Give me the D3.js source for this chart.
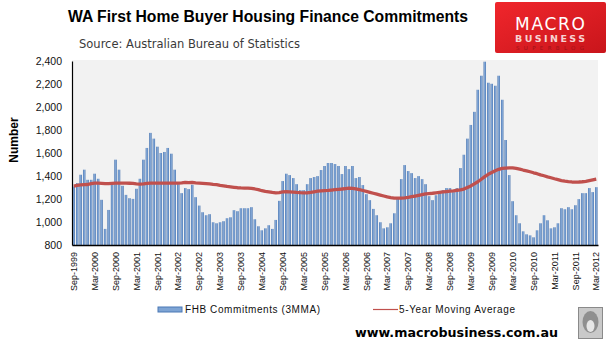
<!DOCTYPE html>
<html>
<head>
<meta charset="utf-8">
<script src="https://cdn.jsdelivr.net/npm/d3@7"></script>
<style>
  html, body { margin: 0; padding: 0; background: #fff; }
  svg { display: block; }
</style>
</head>
<body>
<svg id="chart" width="613" height="348"></svg>
<script>
// WA first home buyer finance commitments, monthly, Sep-1999 to Mar-2012
const startYear = 1999, startMonth = 8; // September (0-based)
const monthNames = ["Jan","Feb","Mar","Apr","May","Jun","Jul","Aug","Sep","Oct","Nov","Dec"];

// FHB commitments (3-month moving average), one value per month
const fhbCommitments = [
  1309,1338,1411,1455,1367,1367,1420,1376,1193,940,1105,1324,
  1542,1455,1315,1236,1207,1201,1289,1376,1542,1644,1775,1725,
  1655,1600,1609,1644,1594,1455,1329,1251,1295,1286,1324,1216,
  1143,1085,1059,1068,998,989,998,1007,1033,1041,1103,1094,
  1120,1120,1120,1129,1024,963,928,945,972,940,1018,1184,
  1356,1420,1408,1382,1329,1277,1277,1329,1382,1391,1399,1452,
  1487,1513,1513,1504,1487,1417,1487,1460,1487,1382,1391,1321,
  1242,1190,1114,1059,998,945,954,989,1076,1207,1373,1495,
  1443,1425,1382,1399,1373,1329,1225,1190,1233,1268,1277,1295,
  1295,1260,1295,1469,1585,1725,1844,1958,2150,2272,2394,2211,
  2202,2185,2272,2063,1713,1408,1181,1059,989,919,893,884,
  867,928,989,1059,1015,945,954,989,1120,1111,1129,1111,
  1146,1199,1251,1251,1295,1260,1303
];

// 5-year moving average, one value per month
const movingAverage = [
  1312,1318,1322,1325,1326,1334,1338,1338,1336,1333,1333,1336,
  1338,1338,1338,1338,1337,1335,1332,1330,1332,1335,1338,1338,
  1338,1338,1338,1338,1338,1338,1338,1340,1344,1342,1344,1340,
  1338,1336,1334,1332,1328,1325,1318,1315,1310,1306,1302,1298,
  1296,1295,1295,1292,1287,1281,1272,1266,1262,1257,1254,1256,
  1262,1263,1262,1260,1257,1255,1254,1254,1258,1263,1268,1271,
  1273,1275,1278,1281,1284,1287,1291,1295,1292,1288,1281,1274,
  1266,1258,1250,1242,1234,1226,1218,1212,1208,1207,1208,1210,
  1214,1220,1226,1232,1238,1244,1247,1250,1254,1258,1262,1265,
  1268,1271,1276,1280,1286,1300,1314,1332,1350,1372,1395,1415,
  1430,1445,1458,1466,1469,1470,1470,1466,1460,1452,1445,1437,
  1428,1420,1410,1402,1393,1385,1376,1368,1360,1355,1351,1348,
  1347,1348,1350,1354,1360,1366,1372
];

const yTicks = [800, 1000, 1200, 1400, 1600, 1800, 2000, 2200, 2400];

// month category labels, e.g. "Sep-1999"
const months = fhbCommitments.map((_, i) => {
  const m = (startMonth + i) % 12;
  const yr = startYear + Math.floor((startMonth + i) / 12);
  return monthNames[m] + "-" + yr;
});
const xTickLabels = months.filter((_, i) => i % 6 === 0);

const svg = d3.select("#chart");
const plot = { left: 72, right: 598, top: 60, bottom: 245 };

const x = d3.scaleBand()
  .domain(months)
  .range([plot.left, plot.right])
  .paddingInner(0.3)
  .paddingOuter(0.15);

const y = d3.scaleLinear()
  .domain([800, 2400])
  .range([plot.bottom, 61]);

const defs = svg.append("defs");
const barGrad = defs.append("linearGradient")
  .attr("id", "barFill").attr("x1", 0).attr("x2", 1).attr("y1", 0).attr("y2", 0);
[["0%", "#3a69a8"], ["35%", "#7fa4d4"], ["65%", "#7fa4d4"], ["100%", "#3a69a8"]]
  .forEach(([o, c]) => barGrad.append("stop").attr("offset", o).attr("stop-color", c));

const logoGrad = defs.append("linearGradient")
  .attr("id", "logoFill").attr("x1", 0).attr("x2", 1).attr("y1", 0).attr("y2", 1);
[["0%", "#f0262c"], ["100%", "#c9151b"]]
  .forEach(([o, c]) => logoGrad.append("stop").attr("offset", o).attr("stop-color", c));

// plot background
svg.append("rect")
  .attr("x", plot.left).attr("y", plot.top)
  .attr("width", plot.right - plot.left).attr("height", plot.bottom - plot.top)
  .attr("fill", "#f2f2f2");

// bars
svg.append("g")
  .selectAll("rect")
  .data(fhbCommitments)
  .join("rect")
  .attr("x", (d, i) => x(months[i]))
  .attr("width", x.bandwidth())
  .attr("y", d => y(d))
  .attr("height", d => y(800) - y(d))
  .attr("fill", "url(#barFill)");

// moving average line
const line = d3.line()
  .x((d, i) => x(months[i]) + x.bandwidth() / 2)
  .y(d => y(d));
svg.append("path")
  .datum(movingAverage)
  .attr("d", line)
  .attr("fill", "none")
  .attr("stroke", "#c0504d")
  .attr("stroke-width", 3.3)
  .attr("stroke-linejoin", "round");

// y axis
const yAxis = svg.append("g")
  .attr("transform", `translate(${plot.left},0)`)
  .call(d3.axisLeft(y).tickValues(yTicks).tickSize(0).tickPadding(10).tickFormat(d3.format(",")));
yAxis.select(".domain").attr("stroke", "#000").attr("stroke-width", 1.2);
yAxis.selectAll("text")
  .attr("font-family", "Liberation Sans, Arial, sans-serif")
  .attr("font-size", 10.5)
  .attr("fill", "#111");

// x axis
const xAxis = svg.append("g")
  .attr("transform", `translate(0,${plot.bottom})`)
  .call(d3.axisBottom(x).tickValues(xTickLabels).tickSize(0).tickPadding(0));
xAxis.select(".domain").attr("stroke", "#000").attr("stroke-width", 1.5);
xAxis.selectAll("text")
  .attr("font-family", "Liberation Sans, Arial, sans-serif")
  .attr("font-size", 9)
  .attr("fill", "#111")
  .attr("text-anchor", "end")
  .attr("transform", "rotate(-90)")
  .attr("x", -7)
  .attr("y", 0)
  .attr("dy", "0.35em");

// y axis title
svg.append("text")
  .attr("transform", "translate(18,140) rotate(-90)")
  .attr("text-anchor", "middle")
  .attr("font-family", "Liberation Sans, Arial, sans-serif")
  .attr("font-weight", "bold")
  .attr("font-size", 12)
  .attr("fill", "#000")
  .text("Number");

// titles
svg.append("text")
  .attr("x", 68).attr("y", 22)
  .attr("font-family", "Liberation Sans, Arial, sans-serif")
  .attr("font-weight", "bold")
  .attr("font-size", 16)
  .attr("textLength", 400)
  .attr("lengthAdjust", "spacingAndGlyphs")
  .attr("fill", "#000")
  .text("WA First Home Buyer Housing Finance Commitments");

svg.append("text")
  .attr("x", 79).attr("y", 48)
  .attr("font-family", "DejaVu Sans, Verdana, sans-serif")
  .attr("font-size", 11.5)
  .attr("textLength", 221)
  .attr("lengthAdjust", "spacingAndGlyphs")
  .attr("fill", "#3a3a3a")
  .text("Source: Australian Bureau of Statistics");

// logo block
const logo = svg.append("g");
logo.append("rect")
  .attr("x", 495).attr("y", 2).attr("width", 111).attr("height", 51)
  .attr("rx", 2)
  .attr("fill", "url(#logoFill)");
logo.append("text")
  .attr("x", 550).attr("y", 30)
  .attr("text-anchor", "middle")
  .attr("font-family", "DejaVu Sans, sans-serif")
  .attr("font-size", 17)
  .attr("textLength", 70)
  .attr("lengthAdjust", "spacing")
  .attr("fill", "#fff")
  .text("MACRO");
logo.append("text")
  .attr("x", 550).attr("y", 42)
  .attr("text-anchor", "middle")
  .attr("font-family", "DejaVu Sans, sans-serif")
  .attr("font-weight", "bold")
  .attr("font-size", 9.5)
  .attr("textLength", 70)
  .attr("lengthAdjust", "spacing")
  .attr("fill", "#f7d3d3")
  .text("BUSINESS");
logo.append("text")
  .attr("x", 550).attr("y", 50)
  .attr("text-anchor", "middle")
  .attr("font-family", "DejaVu Sans, sans-serif")
  .attr("font-size", 5.5)
  .attr("textLength", 68)
  .attr("lengthAdjust", "spacing")
  .attr("fill", "#9e1217")
  .text("SUPERBLOG");

// legend
const legendFont = "Liberation Sans, Arial, sans-serif";
svg.append("rect")
  .attr("x", 158).attr("y", 307).attr("width", 24).attr("height", 5)
  .attr("fill", "#7ea4d4").attr("stroke", "#4a78b5").attr("stroke-width", 1);
svg.append("text")
  .attr("x", 185).attr("y", 313)
  .attr("font-family", legendFont).attr("font-size", 10)
  .attr("textLength", 135).attr("lengthAdjust", "spacing")
  .attr("fill", "#111")
  .text("FHB Commitments (3MMA)");
svg.append("line")
  .attr("x1", 373).attr("x2", 398).attr("y1", 309.5).attr("y2", 309.5)
  .attr("stroke", "#c0504d").attr("stroke-width", 1.2);
svg.append("text")
  .attr("x", 399).attr("y", 313)
  .attr("font-family", legendFont).attr("font-size", 10)
  .attr("textLength", 116).attr("lengthAdjust", "spacing")
  .attr("fill", "#111")
  .text("5-Year Moving Average");

// site address
svg.append("text")
  .attr("x", 355).attr("y", 337)
  .attr("font-family", "DejaVu Sans, Verdana, sans-serif")
  .attr("font-weight", "bold")
  .attr("font-size", 13)
  .attr("textLength", 203)
  .attr("lengthAdjust", "spacingAndGlyphs")
  .attr("fill", "#000")
  .text("www.macrobusiness.com.au");

// small emblem box
const emb = svg.append("g");
emb.append("rect")
  .attr("x", 578.5).attr("y", 307.5).attr("width", 24).attr("height", 31)
  .attr("fill", "#c9c9c9").attr("stroke", "#8a8a8a").attr("stroke-width", 1);
emb.append("ellipse")
  .attr("cx", 590.5).attr("cy", 322).attr("rx", 8).attr("ry", 11)
  .attr("fill", "#8f8f8f");
emb.append("ellipse")
  .attr("cx", 590.5).attr("cy", 326).attr("rx", 4).attr("ry", 6)
  .attr("fill", "#e6e6e6");
</script>
</body>
</html>
